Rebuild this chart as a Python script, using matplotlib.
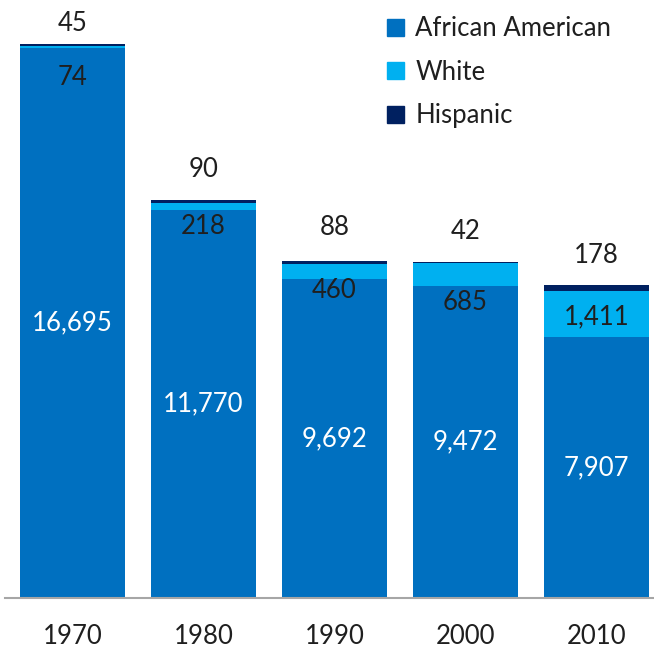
import matplotlib.pyplot as plt
from matplotlib.patches import Patch

plt.rcParams["font.family"] = ["Lato", "DejaVu Sans"]

years = ["1970", "1980", "1990", "2000", "2010"]
african_american = [16695, 11770, 9692, 9472, 7907]
white = [74, 218, 460, 685, 1411]
hispanic = [45, 90, 88, 42, 178]

c_aa = "#0070C0"
c_white = "#00B0F0"
c_hisp = "#002060"

# label offsets in points
white_label_offset = [-22, -14, -14, -20, -2]
hisp_label_offset = [15, 22, 24, 22, 21]

fs = 18.5

fig = plt.figure(figsize=(6.54, 6.49), dpi=100)
ax = fig.add_axes([5 / 654, 1 - 598 / 649, 649 / 654, 598 / 649])

x = list(range(len(years)))
bottom_w = african_american
bottom_h = [a + w for a, w in zip(african_american, white)]

ax.bar(x, african_american, width=0.8, color=c_aa, edgecolor="none")
ax.bar(x, white, bottom=bottom_w, width=0.8, color=c_white, edgecolor="none")
ax.bar(x, hispanic, bottom=bottom_h, width=0.8, color=c_hisp, edgecolor="none")

for i in x:
    ax.text(i, african_american[i] / 2, f"{african_american[i]:,}",
            ha="center", va="center", color="white", fontsize=fs)
    ax.annotate(f"{white[i]:,}", (i, african_american[i] + white[i] / 2),
                xytext=(0, white_label_offset[i]), textcoords="offset points",
                ha="center", va="center", color="#1f1f1f", fontsize=fs)
    top = african_american[i] + white[i] + hispanic[i]
    ax.annotate(f"{hispanic[i]:,}", (i, top), xytext=(0, hisp_label_offset[i]),
                textcoords="offset points",
                ha="center", va="center", color="#1f1f1f", fontsize=fs)

ax.set_xlim(-0.515, 4.439)
ax.set_ylim(0, 18150)
ax.set_xticks(x)
ax.set_xticklabels(years, fontsize=fs, color="#1f1f1f")
ax.tick_params(axis="x", length=0, pad=19)
ax.set_yticks([])
for s in ["top", "right", "left"]:
    ax.spines[s].set_visible(False)
ax.spines["bottom"].set_color("#a6a6a6")
ax.spines["bottom"].set_linewidth(1.5)

handles = [Patch(color=c_aa, label="African American"),
           Patch(color=c_white, label="White"),
           Patch(color=c_hisp, label="Hispanic")]
ax.legend(handles=handles, loc="upper left", bbox_to_anchor=(359 / 649, 1 + 7 / 598),
          bbox_transform=ax.transAxes, frameon=False, fontsize=fs,
          handlelength=0.65, handleheight=0.65, handletextpad=0.45, labelspacing=0.72,
          labelcolor="#1f1f1f")

fig.savefig("out.png", dpi=100)
